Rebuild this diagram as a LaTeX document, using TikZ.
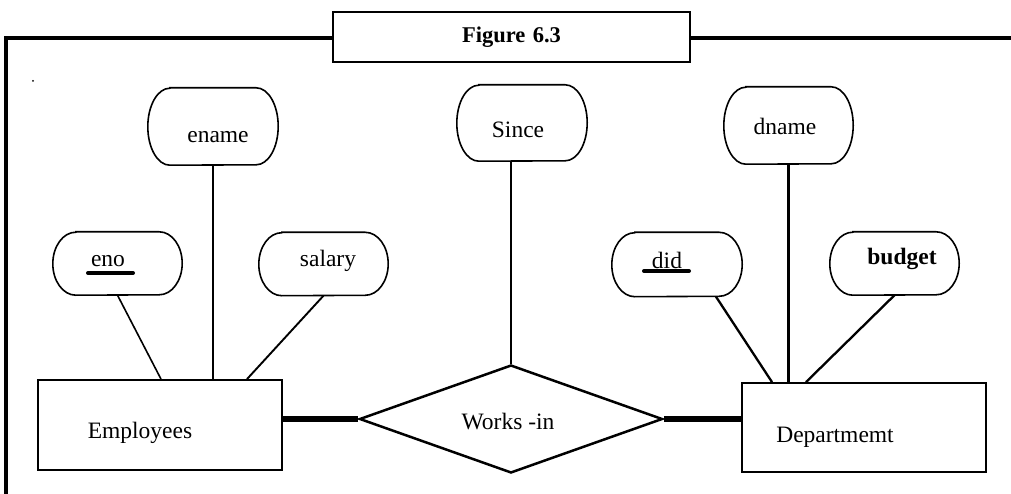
\documentclass[tikz,border=0pt]{standalone}
\usepackage{fontspec}
\setmainfont{Liberation Serif}
\usetikzlibrary{shapes.geometric}
\newcommand\attrshape[3]{%
  \draw[attrline] ([xshift=#2pt]#1.north west) -- ([xshift=-#2pt]#1.north east)
    arc[start angle=90,end angle=-90,x radius=#2pt,y radius=#3pt]
    -- ([xshift=#2pt]#1.south west)
    arc[start angle=270,end angle=90,x radius=#2pt,y radius=#3pt] -- cycle;}
\begin{document}
\begin{tikzpicture}[x=1pt,y=1pt,
  every node/.style={font=\fontsize{23.5}{28}\selectfont},
  attr/.style={draw=none,inner sep=0pt},
  attrline/.style={line width=1.6pt,black},
  lbl/.style={inner sep=0pt},
  entity/.style={draw,line width=1.8pt,inner sep=0pt,minimum width=244pt,minimum height=90pt},
  rel/.style={draw,diamond,line width=2.5pt,inner sep=0pt,aspect=2.8,minimum width=303pt,minimum height=108pt},
  thickconn/.style={line width=5.5pt},
  keybar/.style={line width=4pt,line cap=round},
  framebox/.style={draw,line width=2.7pt,inner sep=0pt,minimum width=357pt,minimum height=50pt,
    font=\fontsize{22.5}{26}\selectfont\bfseries}]
\useasboundingbox (0,0) rectangle (1011,-494);

% frame and title
\node[framebox] (fig) at (511.5,-37) {Figure\,\,6.3};
\coordinate (fbl) at (6,-496);
\coordinate (ftl) at (6,-38);
\coordinate (ftr) at (1013,-38);
\draw[line width=3.2pt] (fbl) -- (ftl) -- (ftl -| fig.west);
\draw[line width=3.2pt] (ftl -| fig.east) -- (ftr);
\fill (33,-81) circle (1);

% attribute shapes
\node[attr,minimum width=130pt,minimum height=77pt] (ename) at (213,-126.5) {};
\node[attr,minimum width=130pt,minimum height=76pt] (since) at (522,-123) {};
\node[attr,minimum width=129pt,minimum height=77pt] (dname) at (788.5,-125.5) {};
\node[attr,minimum width=129pt,minimum height=63pt] (eno) at (117.5,-263.5) {};
\node[attr,minimum width=129pt,minimum height=63pt] (salary) at (323.5,-264) {};
\node[attr,minimum width=130pt,minimum height=64pt] (did) at (677,-264.5) {};
\node[attr,minimum width=129pt,minimum height=63pt] (budget) at (894.5,-263.5) {};
\attrshape{ename}{22}{38.5}
\attrshape{since}{22}{38}
\attrshape{dname}{22}{38.5}
\attrshape{eno}{23}{31.5}
\attrshape{salary}{23}{31.5}
\attrshape{did}{23}{32}
\attrshape{budget}{23}{31.5}

% attribute labels
\node[lbl] (ename-t) at (218,-137) {ename};
\node[lbl] (since-t) at (518,-130) {Since};
\node[lbl] (dname-t) at (785,-126) {dname};
\node[lbl] (eno-t) at (108,-261) {eno};
\node[lbl] (salary-t) at (328,-261) {salary};
\node[lbl] (did-t) at (667,-260) {did};
\node[lbl,font=\fontsize{23.5}{28}\selectfont\bfseries] (budget-t) at (902,-259) {budget};
\coordinate (enobarL) at (88,-273);
\coordinate (enobarR) at (133,-273);
\coordinate (didbarL) at (644,-271);
\coordinate (didbarR) at (689,-271);
\draw[keybar] (enobarL) -- (enobarR);
\draw[keybar] (didbarL) -- (didbarR);

% entities and relationship
\node[entity] (emp) at (160,-425) {};
\node[lbl] (emp-t) at (140,-433) {Employees};
\node[entity,minimum height=89pt] (dept) at (864,-427.5) {};
\node[lbl] (dept-t) at (835,-437) {Departmemt};
\node[rel] (works) at (511,-419) {};
\node[lbl] (works-t) at (508,-422) {Works -in};

% connectors
\draw[line width=1.6pt] (eno.south) -- ([xshift=1pt]emp.north);
\draw[line width=2pt] (ename.south) -- (ename.south |- emp.north);
\draw[line width=1.9pt] (salary.south) -- ([xshift=87pt]emp.north);
\draw[line width=2.5pt] (works.north |- since.south) -- (works.north);
\draw[line width=2.3pt] ([xshift=39pt]did.south) -- ([xshift=-92pt]dept.north);
\draw[line width=2.5pt] (dname.south) -- (dname.south |- dept.north);
\draw[line width=2.3pt] (budget.south) -- ([xshift=-58pt]dept.north);
\draw[thickconn] (emp.east |- works.west) -- (works.west);
\draw[thickconn] (works.east) -- (works.east -| dept.west);
\end{tikzpicture}
\end{document}
